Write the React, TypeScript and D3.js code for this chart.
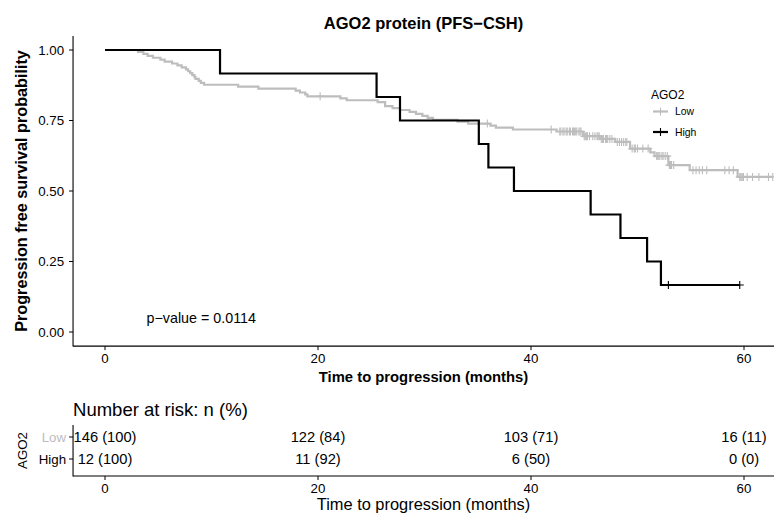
import React from 'react';
import * as d3 from 'd3';

// AGO2 Low: event times and censor times (months)
const LOW_EVENTS = [
  3.1, 3.6, 4.0, 4.5, 5.2, 5.6, 6.3, 6.8, 7.2, 7.6, 7.8, 8.0, 8.2, 8.4, 8.5, 8.8, 9.0, 9.3,
  12.5, 14.4, 17.9, 18.3, 18.8, 19.0,
  22.1, 22.7, 25.6, 26.3, 26.3, 27.0, 27.7, 28.6, 29.2, 29.8, 30.3, 30.8, 33.1, 34.1,
  36.2, 36.7, 38.3,
  42.4, 44.9, 44.9, 46.5, 47.9, 49.3, 49.3, 51.2, 51.6, 52.9, 52.9, 54.9, 59.4,
];
const LOW_CENSORED = [
  20.2, 35.9,
  41.9,
  42.7, 42.8, 43.0, 43.1, 43.3, 43.4, 43.6, 43.7, 43.9, 44.0, 44.1, 44.2, 44.3, 44.5, 44.6, 44.7,
  45.0, 45.1, 45.2, 45.3, 45.5, 45.8, 46.0, 46.2, 46.3, 46.4,
  46.6, 46.7, 46.8, 47.0, 47.1, 47.2, 47.4, 47.6,
  48.1, 48.3, 48.5, 48.7, 48.9, 49.0,
  49.5, 49.7, 49.8, 50.0, 50.5, 51.0,
  51.8, 51.9, 52.0, 52.1, 52.3, 52.4, 52.6, 52.8,
  53.0, 53.1, 53.2, 53.4,
  55.2, 55.5, 55.8, 56.1, 56.5, 58.2, 58.6, 59.0,
  59.6, 59.7, 59.8, 59.8, 59.9, 59.9, 59.95,
  60.3, 60.3, 60.8, 60.8, 61.4, 61.4, 62.3, 62.3, 62.7, 62.7, 62.7, 62.7, 62.7, 62.7, 62.7, 62.7,
];

// AGO2 High
const HIGH_EVENTS = [10.8, 25.5, 27.7, 35.1, 36.0, 38.4, 45.6, 48.4, 50.9, 52.2];
const HIGH_CENSORED = [52.9, 59.6];

const GROUPS = ['Low', 'High'];
const GROUP_COLORS = ['#BDBDBD', '#000000'];

const X_TICKS = [0, 20, 40, 60];
const Y_TICKS = [0, 0.25, 0.5, 0.75, 1];
const RISK_TIMES = [0, 20, 40, 60];

const P_VALUE = 'p\u2212value = 0.0114';

const FONT = "'Liberation Sans', Arial, Helvetica, sans-serif";

type Step = { t: number; s: number };

function kaplanMeier(events: number[], censored: number[]) {
  const all = [...events.map((t) => ({ t, e: 1 })), ...censored.map((t) => ({ t, e: 0 }))];
  const times = Array.from(new Set(all.map((d) => d.t))).sort((a, b) => a - b);
  let s = 1;
  const steps: Step[] = [{ t: 0, s: 1 }];
  const marks: Step[] = [];
  times.forEach((t) => {
    const n = all.filter((d) => d.t >= t).length;
    const d = all.filter((x) => x.t === t && x.e === 1).length;
    const c = all.filter((x) => x.t === t && x.e === 0).length;
    if (d > 0) {
      s = s * (1 - d / n);
      steps.push({ t, s });
    }
    if (c > 0) marks.push({ t, s });
  });
  steps.push({ t: times[times.length - 1], s });
  const atRisk = (t: number) => all.filter((d) => d.t >= t).length;
  return { steps, marks, atRisk, n: all.length };
}

const FITS = [kaplanMeier(LOW_EVENTS, LOW_CENSORED), kaplanMeier(HIGH_EVENTS, HIGH_CENSORED)];

export default function App() {
  const W = 774;
  const H = 520;
  const x = d3.scaleLinear().domain([0, 60]).range([105, 744]);
  const y = d3.scaleLinear().domain([0, 1]).range([332, 50]);
  const left = x(-3);
  const right = W;
  const top = y(1.05);
  const bottom = y(-0.05);

  const line = d3
    .line<Step>()
    .x((d) => x(d.t))
    .y((d) => y(d.s))
    .curve(d3.curveStepAfter);

  // risk table layout
  const rowY = d3.scalePoint<string>().domain(GROUPS).range([437, 459]);
  const tTop = 425;
  const tBottom = 476;

  const cross = (cx: number, cy: number, color: string, key: string, r = 4) => (
    <path key={key} d={`M${cx - r},${cy}H${cx + r}M${cx},${cy - r}V${cy + r}`} stroke={color} strokeWidth={1.1} fill="none" />
  );

  return (
    <svg width={W} height={H} style={{ position: 'absolute', left: 0, top: 0, background: '#fff' }} fontFamily={FONT}>
      <rect width={W} height={H} fill="#fff" />
      {/* title */}
      <text x={(left + right) / 2} y={29} textAnchor="middle" fontSize={16.5} fontWeight="bold">
        AGO2 protein (PFS{'\u2212'}CSH)
      </text>

      {/* curves */}
      {FITS.map((f, i) => (
        <g key={GROUPS[i]}>
          <path d={line(f.steps) || ''} fill="none" stroke={GROUP_COLORS[i]} strokeWidth={2.2} />
          {f.marks.map((m, j) => cross(x(m.t), y(m.s), GROUP_COLORS[i], `${i}-${j}`))}
        </g>
      ))}

      {/* axes */}
      <line x1={left} x2={left} y1={top} y2={bottom + 0.5} stroke="#000" strokeWidth={1.1} />
      <line x1={left} x2={right} y1={bottom} y2={bottom} stroke="#000" strokeWidth={1.1} />
      {Y_TICKS.map((v) => (
        <g key={v}>
          <line x1={left - 4} x2={left} y1={y(v)} y2={y(v)} stroke="#000" strokeWidth={1} />
          <text x={left - 9} y={y(v)} dy="0.35em" textAnchor="end" fontSize={13.3} fill="#000">
            {v.toFixed(2)}
          </text>
        </g>
      ))}
      {X_TICKS.map((v) => (
        <g key={v}>
          <line x1={x(v)} x2={x(v)} y1={bottom} y2={bottom + 4} stroke="#000" strokeWidth={1} />
          <text x={x(v)} y={bottom + 17} textAnchor="middle" fontSize={13.3} fill="#000">
            {v}
          </text>
        </g>
      ))}
      <text x={(left + right) / 2} y={382} textAnchor="middle" fontSize={14.8} fontWeight="bold">
        Time to progression (months)
      </text>
      <text transform={`translate(27,${(top + bottom) / 2}) rotate(-90)`} textAnchor="middle" fontSize={16.2} fontWeight="bold">
        Progression free survival probability
      </text>

      <text x={x(3.9)} y={y(0.05)} dy="0.35em" fontSize={14.3}>
        {P_VALUE}
      </text>

      {/* legend */}
      <text x={651} y={99} fontSize={12}>AGO2</text>
      {GROUPS.map((g, i) => {
        const ly = 111.5 + i * 20.5;
        return (
          <g key={g}>
            <line x1={653} x2={668} y1={ly} y2={ly} stroke={GROUP_COLORS[i]} strokeWidth={2.2} />
            {cross(660.5, ly, GROUP_COLORS[i], `leg-${g}`)}
            <text x={675} y={ly} dy="0.35em" fontSize={10.4}>
              {g}
            </text>
          </g>
        );
      })}

      {/* risk table */}
      <text x={left} y={416} fontSize={18.5}>
        Number at risk: n (%)
      </text>
      <line x1={left} x2={left} y1={tTop} y2={tBottom + 0.5} stroke="#000" strokeWidth={1.1} />
      <line x1={left} x2={right} y1={tBottom} y2={tBottom} stroke="#000" strokeWidth={1.1} />
      {GROUPS.map((g, i) => (
        <g key={g}>
          <line x1={left - 4} x2={left} y1={rowY(g)!} y2={rowY(g)!} stroke="#000" strokeWidth={1} />
          <text x={left - 7} y={rowY(g)!} dy="0.35em" textAnchor="end" fontSize={13.3} fill={GROUP_COLORS[i]}>
            {g}
          </text>
          {RISK_TIMES.map((t) => {
            const n = FITS[i].atRisk(t);
            return (
              <text key={t} x={x(t)} y={rowY(g)!} dy="0.35em" textAnchor="middle" fontSize={14.7}>
                {`${n} (${Math.round((100 * n) / FITS[i].n)})`}
              </text>
            );
          })}
        </g>
      ))}
      {X_TICKS.map((v) => (
        <g key={v}>
          <line x1={x(v)} x2={x(v)} y1={tBottom} y2={tBottom + 4} stroke="#000" strokeWidth={1} />
          <text x={x(v)} y={tBottom + 17} textAnchor="middle" fontSize={13.3}>
            {v}
          </text>
        </g>
      ))}
      <text x={(left + right) / 2} y={510} textAnchor="middle" fontSize={16.4}>
        Time to progression (months)
      </text>
      <text transform={`translate(27,${(tTop + tBottom) / 2}) rotate(-90)`} textAnchor="middle" fontSize={13.3}>
        AGO2
      </text>
    </svg>
  );
}
